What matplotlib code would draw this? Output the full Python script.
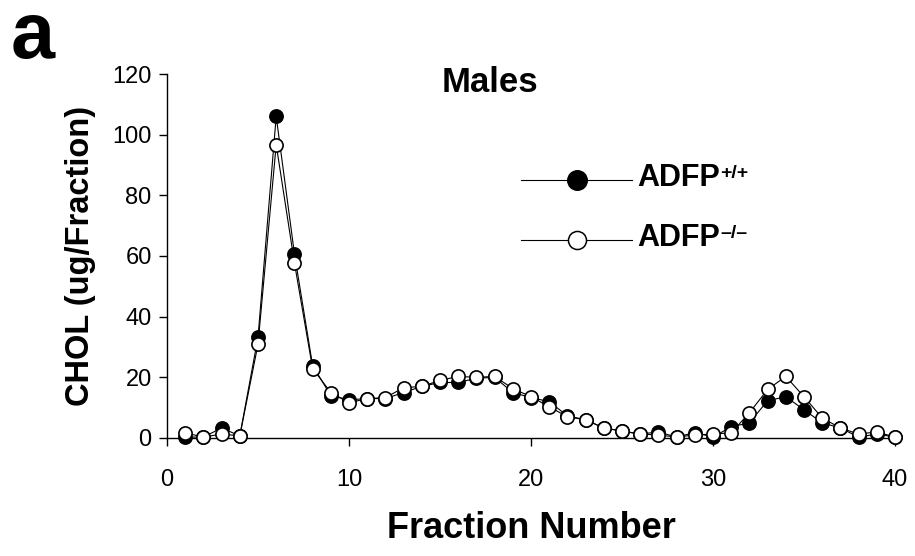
#!/usr/bin/env python3

import numpy as np
import matplotlib.pyplot as plt
from matplotlib.lines import Line2D

plt.rcParams['font.family'] = [ 'Liberation Sans', 'DejaVu Sans' ]

#### ========== Data ==========

fraction = np.arange( 1, 41 )

# CHOL per fraction, ADFP +/+ (filled) and ADFP -/- (open)
cholWT = [ 0.3, 0.3, 3.3, 0.7, 33.2, 106.0, 60.8, 23.9, 14.0, 12.6,
           13.0, 13.0, 15.0, 17.0, 18.3, 18.3, 19.7, 20.0, 15.0, 13.3,
           12.0,  7.3,  6.0,  3.3,  2.3,  1.3,  2.0,  0.3,  1.8,  0.3,
            3.7,  5.0, 12.3, 13.6,  9.3,  5.0,  3.3,  0.3,  1.3,  0.3 ]

cholKO = [ 1.7, 0.3, 1.3, 0.7, 30.9,  96.7, 57.8, 22.9, 15.0, 11.6,
           13.0, 13.3, 16.6, 17.0, 19.0, 20.3, 20.0, 20.3, 16.3, 13.6,
           10.3,  7.0,  6.0,  3.3,  2.3,  1.3,  1.0,  0.3,  1.0,  1.3,
            1.7,  8.3, 16.0, 20.3, 13.6,  6.6,  3.3,  1.3,  2.0,  0.3 ]

xTicks = [ 0, 10, 20, 30, 40 ]
yTicks = [ 0, 20, 40, 60, 80, 100, 120 ]

seriesLabels = [ 'ADFP', 'ADFP' ]
seriesSups   = [ '+/+', '\u2013/\u2013' ]

#### ========== Figure ==========

W, H = 915, 556
fig = plt.figure( figsize = ( W / 100, H / 100 ), dpi = 100 )

# pixel -> figure fraction
def fx( px ): return px / W
def fy( py ): return 1.0 - py / H

ax = fig.add_axes( [ fx( 167 ), fy( 438 ), fx( 895 ) - fx( 167 ), fy( 74 ) - fy( 438 ) ] )

ax.plot( fraction, cholWT, '-o', color = 'k', lw = 0.8,
         markersize = 9.5, markerfacecolor = 'k', markeredgecolor = 'k',
         markeredgewidth = 1.2, clip_on = False, zorder = 3 )
ax.plot( fraction, cholKO, '-o', color = 'k', lw = 0.8,
         markersize = 9.5, markerfacecolor = 'w', markeredgecolor = 'k',
         markeredgewidth = 1.2, clip_on = False, zorder = 4 )

ax.set_xlim( 0, 40 )
ax.set_ylim( 0, 120 )
ax.set_xticks( xTicks )
ax.set_yticks( yTicks )

for side in [ 'top', 'right' ]:
    ax.spines[side].set_visible( False )
for side in [ 'left', 'bottom' ]:
    ax.spines[side].set_linewidth( 1.0 )

ax.tick_params( axis = 'both', direction = 'out', length = 6, width = 1.0,
                labelsize = 17 )
ax.tick_params( axis = 'x', pad = 16 )
ax.tick_params( axis = 'y', pad = 5 )

ax.set_xlabel( 'Fraction Number', fontsize = 26, fontweight = 'bold',
               labelpad = 15 )
ax.set_ylabel( 'CHOL (ug/Fraction)', fontsize = 23.5, fontweight = 'bold',
               labelpad = 12 )

fig.text( fx( 490 ), fy( 92 ), 'Males', fontsize = 25, fontweight = 'bold',
          ha = 'center', va = 'baseline' )

fig.text( fx( 11 ), fy( 58 ), 'a', fontsize = 57, fontweight = 'bold',
          ha = 'left', va = 'baseline' )

#### ========== Legend ==========

rowY  = [ 180, 240 ]
faces = [ 'k', 'w' ]
msize = [ 14, 13 ]
for i in range( 2 ):
    y = fy( rowY[i] )
    fig.add_artist( Line2D( [ fx( 521 ), fx( 632 ) ], [ y, y ],
                            color = 'k', lw = 0.8 ) )
    fig.add_artist( Line2D( [ fx( 577 ) ], [ y ], marker = 'o',
                            markersize = msize[i], markerfacecolor = faces[i],
                            markeredgecolor = 'k', markeredgewidth = 1.1 ) )
    txt = fig.text( fx( 637 ), fy( rowY[i] - 2 ), seriesLabels[i],
                    fontsize = 22, fontweight = 'bold',
                    ha = 'left', va = 'center' )
    # superscript genotype, hung off the corner of the label
    ax.annotate( seriesSups[i], xy = ( 1.0, 1.0 ), xycoords = txt,
                 xytext = ( 0.5, -1.5 ), textcoords = 'offset points',
                 fontsize = 14, fontweight = 'bold', ha = 'left', va = 'top',
                 annotation_clip = False )

fig.savefig( 'out.png', dpi = 100 )
